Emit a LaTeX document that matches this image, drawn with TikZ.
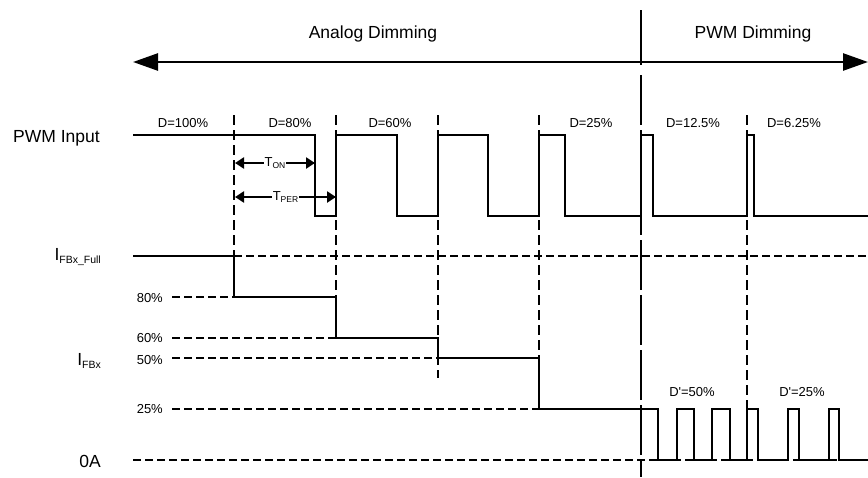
\documentclass[tikz,border=0pt]{standalone}
\usepackage{fontspec}
\setmainfont{Liberation Sans}
\usetikzlibrary{arrows.meta}
\tikzset{
  wave/.style={line width=2.6pt, line join=miter},
  hgrid/.style={line width=1.2pt, dash pattern=on 8pt off 4pt},
  vgrid/.style={line width=1.2pt, dash pattern=on 10pt off 5pt},
  sepline/.style={line width=2.2pt, dash pattern=on 50pt off 5pt},
  dimarrow/.style={line width=2.2pt, {Triangle[length=9pt,width=11pt]}-{Triangle[length=9pt,width=11pt]}},
  bigtxt/.style={font=\fontsize{17.5}{20}\selectfont, inner sep=0pt},
  smalltxt/.style={font=\fontsize{13}{15}\selectfont, inner sep=0pt},
  dimlbl/.style={fill=white, inner sep=1pt, font=\fontsize{13}{15}\selectfont}
}
\newcommand{\subtxt}[1]{\raisebox{-0.2em}{\fontsize{10.5}{12}\selectfont #1}}
\newcommand{\subsm}[1]{\raisebox{-0.2em}{\fontsize{8.5}{10}\selectfont #1}}
\begin{document}
\begin{tikzpicture}[x=1pt,y=-1pt]
\useasboundingbox (0,0) rectangle (868,477);

% top mode arrow
\coordinate (aL) at (133,62);
\coordinate (aR) at (868,62);
\draw[line width=2.6pt, {Triangle[length=25pt,width=17pt]}-{Triangle[length=25pt,width=17pt]}] (aL) -- (aR);
\node[bigtxt] (analog) at (373,34) {Analog Dimming};
\node[bigtxt] (pwmdim) at (753,34) {PWM Dimming};

% separator
\coordinate (s0) at (641,10);
\coordinate (s1) at (641,65);
\coordinate (s2) at (641,75);
\coordinate (s3) at (641,477);
\draw[line width=2.2pt] (s0) -- (s1);
\draw[sepline] (s2) -- (s3);

% vertical period lines
\draw[vgrid] (234,115) -- (234,297);
\draw[vgrid] (336,115) -- (336,338);
\draw[vgrid] (438,115) -- (438,378);
\draw[vgrid] (539,115) -- (539,409);
\draw[vgrid] (747,115) -- (747,460);

% horizontal level lines
\draw[hgrid] (234,256) -- (868,256);
\draw[hgrid] (172,297) -- (234,297);
\draw[hgrid] (172,338) -- (336,338);
\draw[hgrid] (172,358) -- (438,358);
\draw[hgrid] (172,409) -- (539,409);
\draw[hgrid] (133,460) -- (868,460);

% PWM input waveform
\draw[wave] (133,135) -- (315,135) -- (315,216) -- (336,216) -- (336,135) -- (397,135) -- (397,216) -- (438,216) -- (438,135) -- (488,135) -- (488,216) -- (539,216) -- (539,135) -- (565,135) -- (565,216) -- (641,216) -- (641,135) -- (653,135) -- (653,216) -- (747,216) -- (747,135) -- (754,135) -- (754,216) -- (868,216);

% IFBx waveform
\draw[wave] (133,256) -- (234,256) -- (234,297) -- (336,297) -- (336,338) -- (438,338) -- (438,358) -- (539,358) -- (539,409) -- (658,409) -- (658,460) -- (677,460) -- (677,409) -- (694,409) -- (694,460) -- (712,460) -- (712,409) -- (730,409) -- (730,460) -- (747,460) -- (747,409) -- (758,409) -- (758,460) -- (788,460) -- (788,409) -- (799,409) -- (799,460) -- (829,460) -- (829,409) -- (839,409) -- (839,460) -- (868,460);

% TON / TPER
\coordinate (ton0) at (235,163);
\coordinate (ton1) at (315,163);
\coordinate (tper0) at (235,197);
\coordinate (tper1) at (336,197);
\draw[dimarrow] (ton0) -- (ton1) node[dimlbl, midway] (tonl) {T\subsm{ON}};
\draw[dimarrow] (tper0) -- (tper1) node[dimlbl, midway] (tperl) {T\subsm{PER}};

% duty labels
\node[smalltxt, anchor=base] (d100) at (183,127) {D=100\%};
\node[smalltxt, anchor=base] (d80) at (290,127) {D=80\%};
\node[smalltxt, anchor=base] (d60) at (390,127) {D=60\%};
\node[smalltxt, anchor=base] (d25) at (591,127) {D=25\%};
\node[smalltxt, anchor=base] (d125) at (693,127) {D=12.5\%};
\node[smalltxt, anchor=base] (d625) at (794,127) {D=6.25\%};
\node[smalltxt, anchor=base] (dp50) at (692,396) {D\textquotesingle=50\%};
\node[smalltxt, anchor=base] (dp25) at (802,396) {D\textquotesingle=25\%};

% left labels
\node[bigtxt, anchor=base east] (pwmin) at (100,142) {PWM Input};
\node[bigtxt, anchor=base east] (ifull) at (101,260) {I\subtxt{FBx\_Full}};
\node[bigtxt, anchor=base east] (ifbx) at (101,365) {I\subtxt{FBx}};
\node[bigtxt, anchor=base east] (zeroA) at (101,467) {0A};
\node[smalltxt, anchor=base east] (p80) at (163,302) {80\%};
\node[smalltxt, anchor=base east] (p60) at (163,342) {60\%};
\node[smalltxt, anchor=base east] (p50) at (163,364) {50\%};
\node[smalltxt, anchor=base east] (p25) at (163,413) {25\%};
\end{tikzpicture}
\end{document}
